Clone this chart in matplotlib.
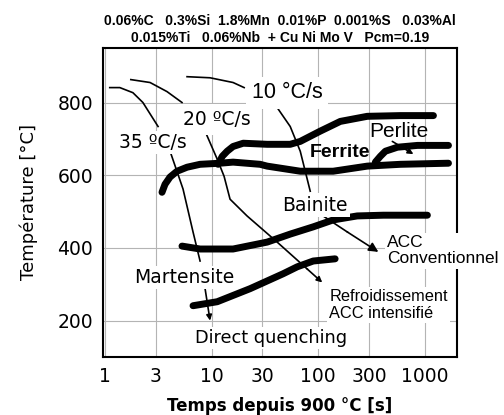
import matplotlib
matplotlib.use('Agg')
import matplotlib.pyplot as plt

# composition (title)
compo_1 = '0.06%C   0.3%Si  1.8%Mn  0.01%P  0.001%S   0.03%Al'
compo_2 = '0.015%Ti   0.06%Nb  + Cu Ni Mo V   Pcm=0.19'

# transformation lines (time s, temperature °C)
ferrite_t = [3.43, 3.66, 4.08, 4.75, 5.89, 7.8, 12.0, 15.9, 28.5, 33.2, 67.8, 138, 288, 589, 1663]
ferrite_T = [553, 575, 595, 611, 622, 630, 633, 636, 630, 625, 611, 611, 625, 630, 633]

ferrite_up_t = [11.5, 12.6, 14.0, 15.9, 19.8, 33.2, 54.6, 67.8, 104, 161, 288, 589, 1202]
ferrite_up_T = [630, 652, 666, 679, 688, 685, 685, 693, 721, 748, 762, 764, 764]

perlite_t = [343, 382, 426, 552, 851, 1663]
perlite_T = [636, 652, 666, 677, 682, 682]

bainite_t = [5.28, 7.8, 15.9, 33.2, 54.6, 89.8, 138, 232, 408, 1055]
bainite_T = [405, 397, 397, 416, 438, 458, 477, 488, 490, 490]

marten_t = [6.7, 11.3, 23.0, 46.9, 63.5, 89.8, 144]
marten_T = [241, 252, 288, 329, 348, 364, 370]

# cooling curves, split where the labels sit
c35 = [([1.11, 1.38, 1.83, 2.27, 3.15], [841, 841, 827, 800, 734]),
       ([4.17, 5.4, 6.7, 7.8], [658, 562, 444, 364])]
c35_arrow = ((8.69, 288), (9.68, 200))

c20 = [([1.75, 2.65, 3.82, 5.28], [863, 855, 830, 800]),
       ([8.69, 11.3, 13.1, 14.9, 21.5, 41.2, 78.8], [721, 644, 597, 534, 488, 416, 342])]
c20_arrow = ((78.8, 342), (109, 305))

c10 = [([5.89, 9.68, 15.9, 20.2], [871, 868, 855, 841]),
       ([41.2, 54.6, 67.8, 84.1], [786, 734, 666, 556]),
       ([111, 187], [488, 444])]
c10_arrow = ((187, 444), (366, 389))

perlite_arrow = ((495, 693), (780, 658))

x_ticks = [1, 3, 10, 30, 100, 300, 1000]
y_ticks = [200, 400, 600, 800]

fig = plt.figure(figsize=(5.04, 4.15), dpi=100)
ax = fig.add_axes([0.2044, 0.1398, 0.7024, 0.7446])
ax.set_xscale('log')
ax.set_xlim(0.96, 2000)
ax.set_ylim(100, 950)

ax.set_xticks(x_ticks)
ax.set_xticklabels([str(v) for v in x_ticks])
ax.minorticks_off()
ax.set_yticks(y_ticks)
ax.tick_params(length=0, labelsize=13.5, pad=7)
ax.grid(True, color='#b4b4b4', lw=0.8)
ax.set_axisbelow(True)
for s in ax.spines.values():
    s.set_linewidth(1.5)

ax.set_xlabel('Temps depuis 900 °C [s]', fontsize=12, fontweight='bold', labelpad=8)
ax.set_ylabel('Température [°C]', fontsize=13, labelpad=14)

thick = dict(color='black', lw=5, solid_capstyle='round', solid_joinstyle='round', zorder=4)
ax.plot(ferrite_t, ferrite_T, **thick)
ax.plot(ferrite_up_t, ferrite_up_T, **thick)
ax.plot(perlite_t, perlite_T, **thick)
ax.plot(bainite_t, bainite_T, **thick)
ax.plot(marten_t, marten_T, **thick)

thin = dict(color='black', lw=1.2, zorder=4)
for seg in c35 + c20 + c10:
    ax.plot(seg[0], seg[1], **thin)


def arrow(a, big=False):
    ax.annotate('', xy=a[1], xytext=a[0], zorder=4,
                arrowprops=dict(arrowstyle='-|>', color='black', lw=1.2,
                                mutation_scale=14 if big else 8,
                                shrinkA=0, shrinkB=0))


arrow(c35_arrow)
arrow(c20_arrow)
arrow(c10_arrow, big=True)
arrow(perlite_arrow)

box = dict(fc='white', ec='none', pad=1.5)
dv = 'DejaVu Sans'
ar = 'Liberation Sans'
ax.text(51.2, 827, '10 °C/s', family=ar, fontsize=15.5, ha='center', va='center',
        bbox=dict(fc='white', ec='none', pad=4), zorder=5)
ax.text(11.3, 753, '20 ºC/s', family=dv, fontsize=13.5, ha='center', va='center',
        bbox=dict(fc='white', ec='none', pad=4), zorder=5)
ax.text(2.83, 690, '35 ºC/s', family=dv, fontsize=13.5, ha='center', va='center', bbox=box, zorder=5)
ax.text(564, 721, 'Perlite', family=ar, fontsize=15, ha='center', va='center', zorder=5)
ax.text(161, 663, 'Ferrite', family=ar, fontsize=14, fontweight='bold', ha='center', va='center', zorder=5)
ax.text(93.7, 518, 'Bainite', family=dv, fontsize=13.5, ha='center', va='center', bbox=box, zorder=5)
ax.text(5.52, 318, 'Martensite', family=dv, fontsize=13.5, ha='center', va='center', bbox=box, zorder=5)
ax.text(36.2, 153, 'Direct quenching', family=dv, fontsize=12.8, ha='center', va='center', bbox=box, zorder=5)
ax.text(444, 392, 'ACC\nConventionnel', family=ar, fontsize=12.5, ha='left', va='center',
        linespacing=1.1, bbox=box, zorder=5)
ax.text(127, 244, 'Refroidissement\nACC intensifié', family=ar, fontsize=11.8, ha='left', va='center',
        linespacing=1.15, bbox=box, zorder=5)

fig.text(0.5556, 0.949, compo_1, family=ar, fontsize=10, fontweight='bold', ha='center', va='center')
fig.text(0.5556, 0.908, compo_2, family=ar, fontsize=10, fontweight='bold', ha='center', va='center')

fig.savefig('out.png', dpi=100)
